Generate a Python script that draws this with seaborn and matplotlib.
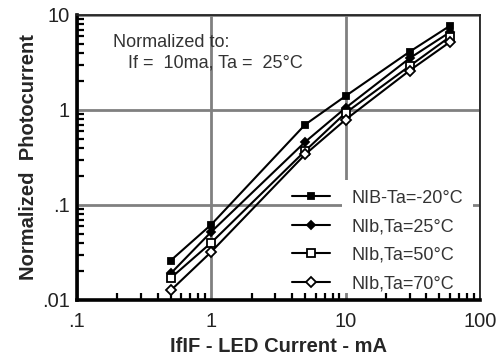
import matplotlib
matplotlib.use("Agg")
import matplotlib.pyplot as plt
import seaborn as sns
import pandas as pd
from matplotlib.patches import Rectangle
from matplotlib.ticker import FixedLocator, LogLocator, NullFormatter

sns.set_style("white")
plt.rcParams['font.family'] = ['Liberation Sans', 'DejaVu Sans']

current_ma = [0.5, 1, 5, 10, 30, 60]
s_m20 = [0.026, 0.062, 0.70, 1.40, 4.1, 7.7]
s_25 = [0.019, 0.052, 0.46, 1.05, 3.5, 6.6]
s_50 = [0.017, 0.040, 0.37, 0.93, 2.9, 5.9]
s_70 = [0.0126, 0.032, 0.34, 0.79, 2.6, 5.2]
labels = ["NIB-Ta=-20\u00b0C", "NIb,Ta=25\u00b0C", "NIb,Ta=50\u00b0C", "NIb,Ta=70\u00b0C"]
xticks = [0.1, 1, 10, 100]
xticklabels = [".1", "1", "10", "100"]
yticks = [0.01, 0.1, 1, 10]
yticklabels = [".01", ".1", "1", "10"]

series = [s_m20, s_25, s_50, s_70]
styles = [
    dict(marker="s", markersize=5, markerfacecolor="black"),
    dict(marker="D", markersize=4.5, markerfacecolor="black"),
    dict(marker="s", markersize=5.5, markerfacecolor="white"),
    dict(marker="D", markersize=5, markerfacecolor="white"),
]

fig = plt.figure(figsize=(5.02, 3.64), dpi=100)
ax = fig.add_axes([0.153, 0.176, 0.803, 0.783])

for vals, lab, st in zip(series, labels, styles):
    df = pd.DataFrame({"x": current_ma, "y": vals})
    sns.lineplot(data=df, x="x", y="y", ax=ax, color="black", linewidth=1.5,
                 markeredgecolor="black", markeredgewidth=1.3, label=lab,
                 zorder=3, **st)

ax.set_xscale("log")
ax.set_yscale("log")
ax.set_xlim(0.1, 100)
ax.set_ylim(0.01, 10)

ax.grid(True, which="major", color="#808080", linewidth=2.0, zorder=0)
ax.set_axisbelow(True)

ax.xaxis.set_major_locator(FixedLocator(xticks))
ax.set_xticklabels(xticklabels)
ax.yaxis.set_major_locator(FixedLocator(yticks))
ax.set_yticklabels(yticklabels)
ax.xaxis.set_minor_locator(LogLocator(base=10, subs=range(2, 10)))
ax.yaxis.set_minor_locator(LogLocator(base=10, subs=range(2, 10)))
ax.xaxis.set_minor_formatter(NullFormatter())
ax.yaxis.set_minor_formatter(NullFormatter())
ax.tick_params(which="major", length=0, labelsize=14.5, colors="#222222")
ax.tick_params(axis="x", which="major", pad=9)
ax.tick_params(axis="y", which="major", pad=5)
ax.tick_params(which="minor", direction="in", length=5, width=1.6, color="black",
               bottom=True, left=True, top=False, right=False)

for side in ["left", "bottom"]:
    ax.spines[side].set_linewidth(2.6)
    ax.spines[side].set_color("black")
for side in ["top", "right"]:
    ax.spines[side].set_linewidth(1.3)
    ax.spines[side].set_color("#222222")

ax.set_xlabel("IfIF - LED Current - mA", fontsize=14.5, fontweight="bold", labelpad=4)
ax.set_ylabel("Normalized  Photocurrent", fontsize=14.5, fontweight="bold", labelpad=3)

ax.text(0.089, 0.905, "Normalized to:", transform=ax.transAxes, fontsize=13,
        color="#333333", va="center")
ax.text(0.128, 0.83, "If =  10ma, Ta =  25\u00b0C", transform=ax.transAxes, fontsize=13,
        color="#333333", va="center")

ax.add_patch(Rectangle((0.658, 0.025), 0.325, 0.395, transform=ax.transAxes,
                       facecolor="white", edgecolor="none", zorder=1))

leg = ax.legend(loc="upper left", bbox_to_anchor=(0.533, 0.387), frameon=False,
                fontsize=13, handlelength=2.1, handletextpad=1.2,
                labelspacing=0.64, borderaxespad=0.0, borderpad=0.0)
for t in leg.get_texts():
    t.set_color("#333333")

fig.savefig("out.png", dpi=100)
